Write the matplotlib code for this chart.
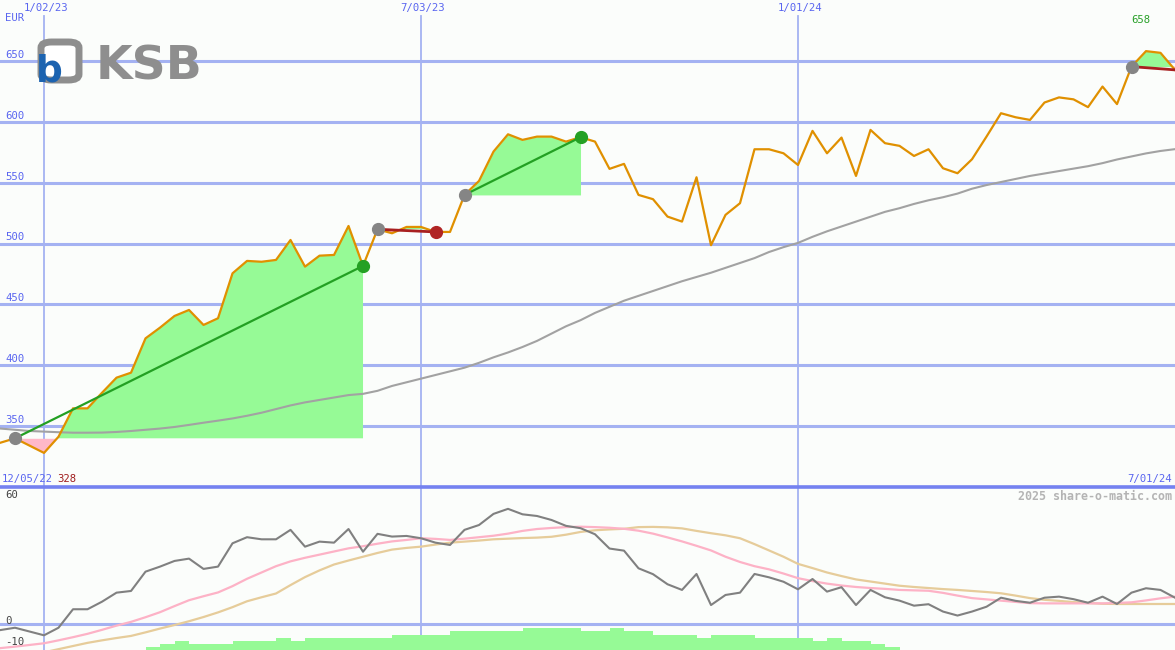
import numpy as np
import pandas as pd
import matplotlib
matplotlib.use("Agg")
import matplotlib.pyplot as plt
import matplotlib.dates as mdates
from matplotlib.patches import FancyBboxPatch

# weekly closes, KSB, EUR
dates = pd.date_range("2022-12-12", periods=82, freq="7D")
price = [336.4, 340.0, 334.0, 328.0, 341.3, 364.6, 364.6, 377.4, 389.8, 393.9,
         422.1, 430.9, 440.5, 445.4, 433.1, 438.6, 475.5, 485.7, 485.0, 486.5,
         502.9, 481.0, 490.0, 490.6, 514.4, 481.6, 511.7, 508.4, 513.6, 513.6,
         509.5, 509.5, 539.9, 551.4, 575.5, 589.7, 585.1, 587.8, 587.8, 583.7,
         587.3, 583.7, 561.3, 565.4, 539.9, 536.4, 522.1, 518.0, 554.4, 498.6,
         523.5, 533.1, 577.4, 577.4, 574.1, 564.5, 592.5, 574.1, 587.0, 555.5,
         593.3, 582.4, 580.2, 571.9, 577.4, 561.8, 557.7, 569.2, 587.8, 607.0,
         603.7, 601.5, 615.8, 620.0, 618.4, 612.0, 628.9, 614.5, 645.3, 658.0,
         656.6, 642.6]
ma200 = [348.0, 347.0, 346.0, 345.5, 345.0, 344.6, 344.6, 344.7, 345.2, 346.0,
         347.0, 348.0, 349.3, 351.0, 352.8, 354.5, 356.3, 358.5, 361.0, 364.0,
         367.0, 369.5, 371.5, 373.5, 375.5, 376.5, 379.0, 383.0, 386.0, 389.0,
         392.0, 395.0, 398.0, 402.0, 406.5, 410.5, 415.0, 420.0, 426.0, 432.0,
         437.0, 443.0, 448.0, 453.0, 457.0, 461.0, 465.0, 469.0, 472.5, 476.0,
         480.0, 484.0, 488.0, 493.0, 497.0, 500.5, 505.5, 510.0, 514.0, 518.0,
         522.0, 526.0, 529.0, 532.5, 535.5, 538.0, 541.0, 545.0, 548.0, 550.5,
         553.0, 555.5, 557.5, 559.5, 561.5, 563.5, 566.0, 569.0, 571.5, 574.0,
         576.0, 577.5]

# lower panel indicator
osc = [-2.9, -1.8, -3.6, -5.4, -1.8, 7.0, 7.0, 10.6, 14.9, 15.7,
       24.9, 27.3, 30.0, 31.1, 26.2, 27.3, 38.4, 41.3, 40.3, 40.3,
       44.8, 36.8, 39.2, 38.7, 45.2, 34.4, 42.9, 41.6, 41.9, 40.8,
       38.7, 37.6, 44.8, 47.1, 52.4, 54.8, 52.2, 51.4, 49.5, 46.7,
       45.6, 42.7, 35.9, 34.9, 26.5, 23.7, 18.9, 16.2, 23.8, 9.0,
       13.8, 14.9, 23.8, 22.2, 20.1, 16.5, 21.4, 15.4, 17.5, 9.0,
       16.2, 12.7, 11.1, 8.7, 9.4, 5.9, 4.0, 5.9, 8.2, 12.5,
       11.0, 10.1, 12.5, 13.0, 11.8, 10.1, 13.0, 9.5, 14.9, 17.0,
       16.2, 12.5]
osc_fast = [-11.5, -10.8, -10.0, -9.2, -7.8, -6.3, -4.7, -2.8, -0.8, 1.0,
            3.2, 5.6, 8.5, 11.3, 13.2, 15.0, 18.0, 21.5, 24.5, 27.5,
            29.8, 31.5, 33.0, 34.5, 36.0, 37.0, 38.2, 39.3, 40.0, 40.8,
            40.5, 40.0, 40.6, 41.3, 42.0, 43.0, 44.3, 45.2, 45.7, 46.1,
            46.3, 46.1, 45.8, 45.3, 44.4, 43.0, 41.2, 39.3, 37.2, 35.0,
            32.0, 29.5, 27.5, 26.0, 24.0, 21.8, 20.4, 19.2, 18.3, 17.6,
            17.1, 16.7, 16.2, 16.0, 15.8, 14.8, 13.5, 12.3, 11.7, 11.1,
            10.5, 9.9, 9.8, 9.8, 9.8, 9.8, 9.8, 10.0, 10.3, 11.2,
            12.2, 13.0]
osc_slow = [-16.0, -15.5, -14.5, -13.5, -12.0, -10.5, -9.0, -7.8, -6.7, -5.7,
            -4.0, -2.2, -0.5, 1.3, 3.3, 5.5, 8.0, 10.8, 12.7, 14.5,
            18.5, 22.3, 25.5, 28.3, 30.2, 32.0, 33.8, 35.4, 36.2, 36.8,
            37.8, 38.7, 39.2, 39.7, 40.3, 40.6, 40.9, 41.1, 41.5, 42.5,
            43.8, 44.6, 45.0, 45.3, 46.1, 46.2, 46.0, 45.5, 44.3, 43.2,
            42.2, 40.8, 38.0, 35.0, 32.0, 28.6, 26.6, 24.5, 22.8, 21.2,
            20.2, 19.2, 18.2, 17.6, 17.1, 16.6, 16.2, 15.7, 15.2, 14.6,
            13.5, 12.3, 11.5, 11.0, 10.4, 10.0, 9.6, 9.5, 9.5, 9.5,
            9.5, 9.5]
hist_first = 10
hist_top = [-11.0, -9.5, -8.1, -9.5, -9.5, -9.5, -8.1, -8.1, -8.1, -6.7,
            -8.1, -6.7, -6.7, -6.7, -6.7, -6.7, -6.7, -5.2, -5.2, -5.2,
            -5.2, -3.3, -3.3, -3.3, -3.3, -3.3, -1.9, -1.9, -1.9, -1.9,
            -3.3, -3.3, -1.9, -3.3, -3.3, -5.2, -5.2, -5.2, -6.7, -5.2,
            -5.2, -5.2, -6.7, -6.7, -6.7, -6.7, -8.1, -6.7, -8.1, -8.1,
            -9.5, -11.0]

# trend signals (week index)
sig_start = [1, 26, 32, 78]
sig_end = [25, 30, 40, 81]
sig_up = [True, False, True, False]
sig_closed = [True, True, True, False]

price_ticks = [650, 600, 550, 500, 450, 400, 350]
osc_ticks = [60, 0, -10]
date_ticks = ["2023-01-02", "2023-07-03", "2024-01-01"]
date_labels = ["1/02/23", "7/03/23", "1/01/24"]

BG = "#fbfdfb"
GRID = "#a4b2f2"
LBL = "#5a66f0"
MONO = "DejaVu Sans Mono"
FS = 7.7

x = mdates.date2num(dates)
xt = mdates.date2num(pd.to_datetime(date_ticks))
p = np.array(price)

fig = plt.figure(figsize=(11.75, 6.5), dpi=100, facecolor=BG)
ax = fig.add_axes([0, 163 / 650, 1, 487 / 650])
ax2 = fig.add_axes([0, 0, 1, 163 / 650])
for a in (ax, ax2):
    a.set_facecolor(BG)
    a.set_xlim(x[0] - 0.25, x[-1])
    a.axis("off")
ax.set_ylim(300, 700)
ax2.set_ylim(-12.4, 65.2)

# grid
for v in price_ticks:
    ax.axhline(v, color=GRID, lw=2.2, zorder=1)
for d in xt:
    ax.axvline(d, ymax=1 - 16 / 487, color=GRID, lw=1.3, zorder=1)
    ax2.axvline(d, color=GRID, lw=1.3, zorder=1)
ax2.axhline(0, color=GRID, lw=2.2, zorder=1)
ax2.axhline(65.2, color="#7482f0", lw=2.6, zorder=5, clip_on=False)

# signal fills
for s, e in zip(sig_start, sig_end):
    xs = x[s:e + 1]
    ys = p[s:e + 1]
    base = p[s]
    ax.fill_between(xs, ys, base, where=ys >= base, interpolate=True,
                    color="#96fa96", lw=0, zorder=2)
    ax.fill_between(xs, ys, base, where=ys <= base, interpolate=True,
                    color="#ffb8c8", lw=0, zorder=2)

ax.plot(x, ma200, color="#a2a2a2", lw=1.5, zorder=3)
ax.plot(x, price, color="#e09000", lw=1.6, zorder=4)

for s, e, up, closed in zip(sig_start, sig_end, sig_up, sig_closed):
    lc = "#23a023" if up else "#a82020"
    ax.plot([x[s], x[e]], [p[s], p[e]], color=lc, lw=1.6 if up else 2.0, zorder=5)
    ax.plot(x[s], p[s], "o", ms=8.5, color="#858585", zorder=6)
    if closed:
        ax.plot(x[e], p[e], "o", ms=8.5, color="#24a024" if up else "#b02424", zorder=6)

# labels upper
ytr = ax.get_yaxis_transform()
xtr = ax.get_xaxis_transform()
for v in price_ticks:
    ax.annotate(str(v), xy=(0, v), xycoords=ytr, xytext=(5, 6), textcoords="offset pixels",
                ha="left", va="center", color=LBL, fontsize=FS, family=MONO)
ax.annotate("EUR", xy=(0, 1), xycoords="axes fraction", xytext=(5, -18), textcoords="offset pixels",
            ha="left", va="center", color=LBL, fontsize=FS, family=MONO)
for d, t in zip(xt, date_labels):
    ax.annotate(t, xy=(d, 1), xycoords=xtr, xytext=(2, -8), textcoords="offset pixels",
                ha="center", va="center", color=LBL, fontsize=FS, family=MONO)
ax.annotate("12/05/22", xy=(0, 0), xycoords="axes fraction", xytext=(2, 8), textcoords="offset pixels",
            ha="left", va="center", color=LBL, fontsize=FS, family=MONO)
ax.annotate(f"{min(price):.0f}", xy=(0, 0), xycoords="axes fraction", xytext=(57, 8),
            textcoords="offset pixels", ha="left", va="center", color="#a01c1c", fontsize=FS, family=MONO)
ax.annotate("7/01/24", xy=(1, 0), xycoords="axes fraction", xytext=(-3, 8), textcoords="offset pixels",
            ha="right", va="center", color=LBL, fontsize=FS, family=MONO)
kmax = int(np.argmax(p))
ax.annotate(f"{max(price):.0f}", xy=(x[kmax], 1), xycoords=xtr, xytext=(-5, -20),
            textcoords="offset pixels", ha="center", va="center", color="#28a028", fontsize=FS, family=MONO)

# lower panel
ax2.bar(x[hist_first:hist_first + len(hist_top)], np.array(hist_top) + 13, bottom=-13,
        width=7, align="edge", color="#96fa96", lw=0, zorder=2)
ax2.plot(x, osc_slow, color="#e6cc9a", lw=1.6, zorder=3)
ax2.plot(x, osc_fast, color="#fdb2c6", lw=1.6, zorder=3)
ax2.plot(x, osc, color="#808080", lw=1.5, zorder=4)
ytr2 = ax2.get_yaxis_transform()
for v in osc_ticks:
    ax2.annotate(str(v), xy=(0, v), xycoords=ytr2, xytext=(5, 3), textcoords="offset pixels",
                 ha="left", va="center", color="#444444", fontsize=FS, family=MONO)
ax2.annotate("2025 share-o-matic.com", xy=(1, 1), xycoords="axes fraction", xytext=(-3, -9),
             textcoords="offset pixels", ha="right", va="center", color="#b4b4b4",
             fontsize=8.4, family=MONO, weight="bold")

# KSB logo
def fx(px):
    return px / 1175

def fy(py):
    return 1 - py / 650

fig.patches.append(FancyBboxPatch((fx(41), fy(80)), fx(38), 38 / 650,
                                  boxstyle="round,pad=0,rounding_size=0.009",
                                  transform=fig.transFigure, facecolor="white",
                                  edgecolor="#8e8e8e", lw=5, zorder=10))
fig.text(fx(36), fy(82), "b", color="#1c63b0", fontsize=27, weight="bold",
         ha="left", va="baseline", zorder=11)
fig.text(fx(96), fy(80), "KSB", color="#8e8e8e", fontsize=34, weight="bold",
         ha="left", va="baseline", zorder=11)

fig.savefig("out.png", dpi=100, facecolor=BG)
